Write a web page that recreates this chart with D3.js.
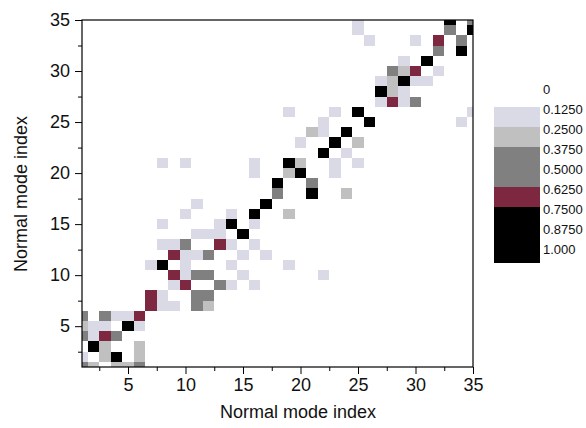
<!DOCTYPE html>
<html>
<head>
<meta charset="utf-8">
<script src="https://cdn.jsdelivr.net/npm/d3@7"></script>
<style>
body { margin: 0; background: #fff; }
text { font-family: Arial, "Liberation Sans", sans-serif; fill: #111; }
</style>
</head>
<body>
<svg id="chart" width="586" height="428"></svg>
<script>
// overlap matrix, sparse: [mode x, mode y, value]; empty cells are 0
let overlaps = [
  [1,1,.5],[2,1,.3],[4,1,.3],[5,1,.3],[6,1,.5],
  [1,2,.2],[3,2,.3],[4,2,.9],[6,2,.3],
  [2,3,.9],[3,3,.3],[6,3,.3],
  [1,4,.5],[2,4,.2],[3,4,.7],[4,4,.5],
  [1,5,.3],[2,5,.2],[3,5,.2],[5,5,.9],[6,5,.2],
  [1,6,.5],[3,6,.5],[4,6,.2],[5,6,.2],[6,6,.7],
  [7,7,.7],[8,7,.2],[9,7,.2],[11,7,.5],[12,7,.3],
  [7,8,.7],[8,8,.2],[11,8,.5],[12,8,.5],
  [9,9,.2],[10,9,.7],[13,9,.5],[14,9,.2],[16,9,.2],
  [9,10,.7],[10,10,.2],[11,10,.5],[12,10,.5],[15,10,.2],[22,10,.2],
  [7,11,.2],[8,11,.9],[10,11,.2],[14,11,.2],[19,11,.2],
  [9,12,.7],[10,12,.2],[11,12,.2],[12,12,.5],[15,12,.2],[17,12,.2],
  [8,13,.2],[9,13,.2],[10,13,.5],[13,13,.7],[14,13,.2],[16,13,.2],
  [11,14,.2],[12,14,.2],[13,14,.2],[15,14,.9],
  [8,15,.2],[13,15,.2],[14,15,.9],[16,15,.2],
  [10,16,.2],[14,16,.2],[16,16,.9],[19,16,.3],
  [11,17,.2],[17,17,.9],
  [18,18,.5],[21,18,.9],[24,18,.3],
  [18,19,.9],[21,19,.5],
  [16,20,.2],[19,20,.3],[20,20,.9],[23,20,.2],
  [8,21,.2],[10,21,.2],[16,21,.2],[19,21,.9],[20,21,.3],[23,21,.2],[25,21,.2],
  [22,22,.9],[24,22,.2],
  [20,23,.2],[23,23,.9],[25,23,.3],
  [21,24,.3],[22,24,.2],[24,24,.9],
  [22,25,.2],[26,25,.9],[34,25,.2],
  [19,26,.2],[23,26,.2],[25,26,.9],[35,26,.2],
  [27,27,.2],[28,27,.7],[29,27,.2],[30,27,.5],
  [27,28,.9],[28,28,.3],[29,28,.2],
  [27,29,.2],[28,29,.3],[29,29,.9],[30,29,.2],[31,29,.2],
  [28,30,.5],[29,30,.3],[30,30,.7],[32,30,.2],
  [29,31,.2],[31,31,.9],
  [32,32,.5],[34,32,.9],
  [26,33,.2],[30,33,.2],[32,33,.7],[34,33,.5],
  [25,34,.2],[33,34,.5],[35,34,.9],
  [25,35,.2],[33,35,.9],[35,35,.5]
]

let majorTicks = [5, 10, 15, 20, 25, 30, 35]
let minorTicks = [2.5, 7.5, 12.5, 17.5, 22.5, 27.5, 32.5]
let levels = [0, 0.125, 0.25, 0.375, 0.5, 0.625, 0.75, 0.875, 1.0]
let levelLabels = ['0', '0.1250', '0.2500', '0.3750', '0.5000', '0.6250', '0.7500', '0.8750', '1.000']
let levelColors = ['#ffffff', '#dadae7', '#c0c0c0', '#808080', '#808080', '#7d2741', '#000000', '#000000']

let svg = d3.select('#chart')

let x = d3.scaleLinear().domain([1, 35]).range([82, 473])
let y = d3.scaleLinear().domain([1, 35]).range([367, 20])

let colour = d3.scaleThreshold()
    .domain(levels.slice(1, -1))
    .range(levelColors)

// cells are centred on the integer modes, clipped at the frame
svg.append('g')
  .selectAll('rect')
  .data(overlaps)
  .enter()
    .append('rect')
    .attr('x', d => x(Math.max(1, d[0] - 0.5)))
    .attr('width', d => x(Math.min(35, d[0] + 0.5)) - x(Math.max(1, d[0] - 0.5)))
    .attr('y', d => y(Math.min(35, d[1] + 0.5)))
    .attr('height', d => y(Math.max(1, d[1] - 0.5)) - y(Math.min(35, d[1] + 0.5)))
    .attr('fill', d => colour(d[2]))
    .attr('shape-rendering', 'crispEdges')

// frame
svg.append('rect')
  .attr('x', 82).attr('y', 20)
  .attr('width', 391).attr('height', 347)
  .attr('fill', 'none')
  .attr('stroke', '#000')
  .attr('stroke-width', 1.2)

let xAxis = svg.append('g').attr('transform', 'translate(0,367)')
xAxis.call(d3.axisBottom(x).tickValues(majorTicks).tickSize(7).tickPadding(4))
xAxis.append('g').call(d3.axisBottom(x).tickValues(minorTicks).tickSize(4).tickFormat(''))

let yAxis = svg.append('g').attr('transform', 'translate(82,0)')
yAxis.call(d3.axisLeft(y).tickValues(majorTicks).tickSize(7).tickPadding(5))
yAxis.append('g').call(d3.axisLeft(y).tickValues(minorTicks).tickSize(4).tickFormat(''))

svg.selectAll('.domain').remove()
svg.selectAll('.tick line').attr('stroke', '#000')
svg.selectAll('.tick text')
  .style('font-size', '18px')
  .style('font-family', 'Arial, "Liberation Sans", sans-serif')
  .attr('fill', '#111')

svg.append('text')
  .attr('x', 298).attr('y', 418)
  .attr('text-anchor', 'middle')
  .style('font-size', '18px')
  .text('Normal mode index')

svg.append('text')
  .attr('transform', 'translate(27,194) rotate(-90)')
  .attr('text-anchor', 'middle')
  .style('font-size', '18px')
  .text('Normal mode index')

// legend
let ly = d3.scaleLinear().domain([0, 1]).range([87, 247])
let bands = levelColors.map((c, i) => ({ c: c, lo: levels[i], hi: levels[i + 1] }))
bands.push({ c: '#000000', lo: 1.0, hi: 1.1 })

svg.append('g')
  .selectAll('rect')
  .data(bands)
  .enter()
    .append('rect')
    .attr('x', 494)
    .attr('width', 46)
    .attr('y', d => ly(d.lo))
    .attr('height', d => ly(d.hi) - ly(d.lo))
    .attr('fill', d => d.c)
    .attr('shape-rendering', 'crispEdges')

svg.append('g')
  .selectAll('text')
  .data(levels)
  .enter()
    .append('text')
    .attr('x', 543)
    .attr('y', d => ly(d) + 2)
    .attr('dy', '0.35em')
    .style('font-size', '13px')
    .text((d, i) => levelLabels[i])
</script>
</body>
</html>
